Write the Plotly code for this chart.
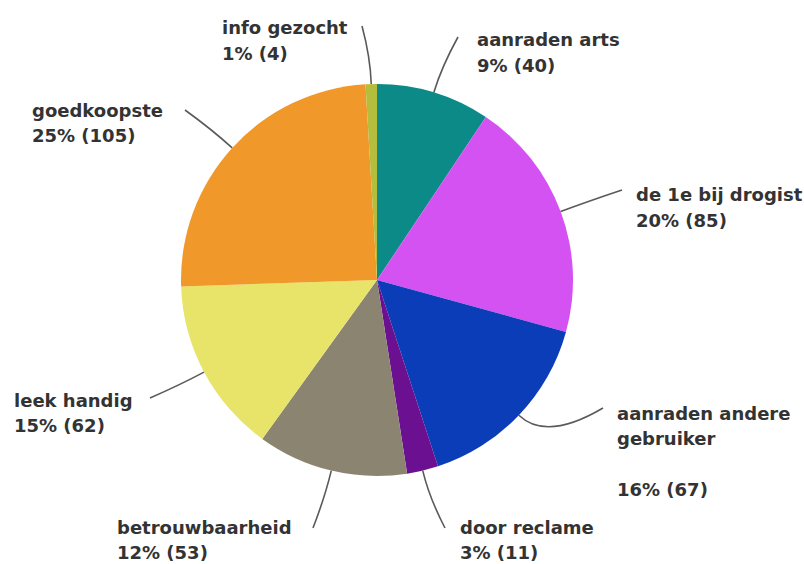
import math
import plotly.graph_objects as go

# ---- data ----
labels = ["aanraden arts", "de 1e bij drogist", "aanraden andere gebruiker", "door reclame",
          "betrouwbaarheid", "leek handig", "goedkoopste", "info gezocht"]
values = [40, 85, 67, 11, 53, 62, 105, 4]
label_lines = [["aanraden arts"], ["de 1e bij drogist"], ["aanraden andere", "gebruiker", ""], ["door reclame"],
               ["betrouwbaarheid"], ["leek handig"], ["goedkoopste"], ["info gezocht"]]

# ---- style / layout ----
colors = ["#0B8A88", "#D452F2", "#0B3DB8", "#6B1090", "#8A8470", "#E8E46A", "#F0982A", "#B4BE3C"]
W, H = 804, 564
CX, CY, R = 377, 280, 196
LINE_H = 25.5
# label placement (px): text left, first-line centre, leader end point
text_pos = [(475, 40), (634, 195), (615, 413), (458, 527), (115, 527), (12, 400), (30, 110), (220, 28)]
leader_end = [(458, 37), (622, 190), (603, 408), (445, 528), (313, 528), (150, 398), (185, 110), (362, 26)]

def px(x, y):
    return x / W, 1 - y / H

fig = go.Figure(go.Pie(
    labels=labels, values=values, sort=False, direction="clockwise", rotation=0,
    marker=dict(colors=colors, line=dict(width=0)), textinfo="none", hoverinfo="label+value+percent",
    domain=dict(x=[(CX - R) / W, (CX + R) / W], y=[1 - (CY + R) / H, 1 - (CY - R) / H]),
    showlegend=False,
))

total = sum(values)
cum = 0
shapes, annotations = [], []
for i, v in enumerate(values):
    mid = (cum + v / 2) / total * 2 * math.pi
    cum += v
    dx, dy = math.sin(mid), -math.cos(mid)
    p0 = (CX + R * dx, CY + R * dy)
    ex, ey = leader_end[i]
    dist = math.hypot(ex - p0[0], ey - p0[1])
    d = R + 0.45 * dist
    ctrl = (CX + d * dx, CY + d * dy)
    a, b, c = px(*p0), px(*ctrl), px(ex, ey)
    shapes.append(dict(type="path", xref="paper", yref="paper",
                       path=f"M {a[0]},{a[1]} Q {b[0]},{b[1]} {c[0]},{c[1]}",
                       line=dict(color="#5a5a5a", width=1.6)))
    pct = round(v / total * 100)
    lines = label_lines[i] + [f"{pct}% ({v})"]
    tx, ty = text_pos[i]
    for k, line in enumerate(lines):
        if not line:
            continue
        x, y = px(tx, ty + k * LINE_H)
        annotations.append(dict(xref="paper", yref="paper", x=x, y=y, xanchor="left", yanchor="middle",
                                align="left", showarrow=False, text=line,
                                font=dict(family="DejaVu Sans", size=18, color="#333333", weight="bold")))

fig.update_layout(width=W, height=H, margin=dict(l=0, r=0, t=0, b=0),
                  paper_bgcolor="white", plot_bgcolor="white",
                  shapes=shapes, annotations=annotations)
fig.write_html("out.html", config={"displayModeBar": False})

# remove the default page margin so the figure fills the window exactly
with open("out.html", encoding="utf-8") as f:
    html = f.read()
html = html.replace("<body>", '<body style="margin:0;padding:0;overflow:hidden">', 1)
with open("out.html", "w", encoding="utf-8") as f:
    f.write(html)
